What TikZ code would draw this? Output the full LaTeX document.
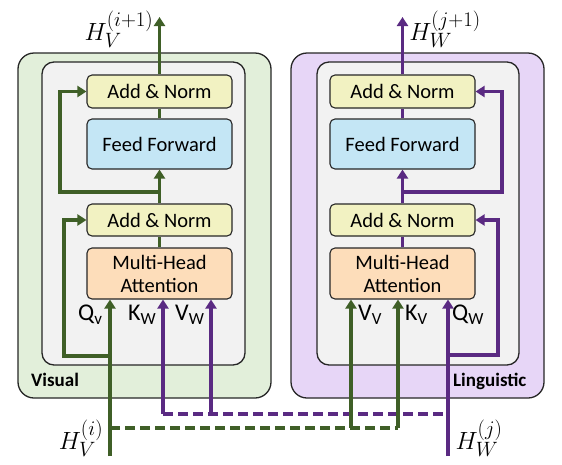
\documentclass[tikz,border=0pt]{standalone}
\usepackage{fontspec}
\setmainfont{Carlito}
\usetikzlibrary{arrows.meta}
\definecolor{gline}{HTML}{3F5F27}
\definecolor{pline}{HTML}{5A2A82}
\definecolor{gouter}{HTML}{E2EFDA}
\definecolor{pouter}{HTML}{E7D6F7}
\definecolor{innerfill}{HTML}{F2F2F2}
\definecolor{anfill}{HTML}{F2F2C2}
\definecolor{fffill}{HTML}{C4E6F5}
\definecolor{mhfill}{HTML}{FDDDBA}
\definecolor{edge}{HTML}{262626}
\newcommand{\sublab}[2]{{\fontsize{24}{24}\selectfont #1}\raisebox{-4.5pt}{\fontsize{17}{17}\selectfont #2}}
\begin{document}
\begin{tikzpicture}[x=1pt,y=-1pt,
  outerbox/.style={draw=edge,line width=1.3pt,rounded corners=16pt,inner sep=0pt},
  innerbox/.style={draw=edge,line width=1.3pt,fill=innerfill,rounded corners=12pt,inner sep=0pt},
  block/.style={draw=edge,line width=1.1pt,rounded corners=5pt,minimum width=145pt,align=center,
    font=\fontsize{20.5}{23}\selectfont,inner sep=0pt},
  garr/.style={draw=gline,line width=3.6pt,-{Triangle[length=9pt,width=11pt]}},
  parr/.style={draw=pline,line width=3.6pt,-{Triangle[length=9pt,width=11pt]}},
  gline/.style={draw=gline,line width=3.6pt},
  pline/.style={draw=pline,line width=3.6pt},
  gdash/.style={draw=gline,line width=3.6pt,dash pattern=on 10pt off 5pt},
  pdash/.style={draw=pline,line width=3.6pt,dash pattern=on 10pt off 5pt},
  hlab/.style={font=\fontsize{24.88}{26}\selectfont,inner sep=0pt},
  inlab/.style={anchor=base west,inner sep=0pt},
  grouplab/.style={anchor=base west,inner sep=0pt,font=\fontsize{19}{20}\selectfont\bfseries}
]
\useasboundingbox (0,0) rectangle (562,464);

% ---------- boxes ----------
\node[outerbox,fill=gouter,minimum width=253pt,minimum height=345pt] (outL) at (144.5,225.5) {};
\node[outerbox,fill=pouter,minimum width=253pt,minimum height=345pt] (outR) at (417.5,225.5) {};
\node[innerbox,minimum width=203pt,minimum height=303pt] (inL) at (143.5,213.5) {};
\node[innerbox,minimum width=202pt,minimum height=303pt] (inR) at (418,213.5) {};

\node[block,fill=anfill,minimum height=33pt] (anL1) at (159.5,91.5) {Add \& Norm};
\node[block,fill=fffill,minimum height=50pt] (ffL) at (159.5,144) {Feed Forward};
\node[block,fill=anfill,minimum height=32pt] (anL2) at (159.5,220) {Add \& Norm};
\node[block,fill=mhfill,minimum height=51pt] (mhL) at (159.5,273.5) {Multi-Head\\Attention};

\node[block,fill=anfill,minimum height=33pt] (anR1) at (402.5,91.5) {Add \& Norm};
\node[block,fill=fffill,minimum height=50pt] (ffR) at (402.5,144) {Feed Forward};
\node[block,fill=anfill,minimum height=32pt] (anR2) at (402.5,220) {Add \& Norm};
\node[block,fill=mhfill,minimum height=51pt] (mhR) at (402.5,273.5) {Multi-Head\\Attention};

\node[grouplab] (visL) at (31,386) {Visual};
\node[grouplab] (lingL) at (453,386) {Linguistic};

% ---------- coordinates ----------
\coordinate (qvStart) at (110,456);
\coordinate (qvRes) at (110,356);
\coordinate (qvCorner) at (64,356);
\coordinate (brL) at (159.5,192);
\coordinate (brLc) at (60,192);
\coordinate (outLtop) at (159.5,17);
\coordinate (kw) at (163,414);
\coordinate (vw) at (211,414);
\coordinate (gd) at (110,428);
\coordinate (vv) at (351,428);
\coordinate (kv) at (398,428);
\coordinate (qwStart) at (448,456);
\coordinate (qwTurn) at (448,414);
\coordinate (qwRes) at (448,355);
\coordinate (qwCorner) at (498,355);
\coordinate (brR) at (402.5,192);
\coordinate (brRc) at (502,192);
\coordinate (outRtop) at (402.5,17);

% ---------- dashed cross connections ----------
\draw[pdash] (kw) -- (qwTurn);
\draw[gdash] (gd) -- (kv);

% ---------- left stream ----------
\draw[garr] (qvStart) -- (qvStart |- mhL.south);
\draw[garr] (qvRes) -- (qvCorner) |- (anL2.west);
\draw[parr] (kw) -- (kw |- mhL.south);
\draw[parr] (vw) -- (vw |- mhL.south);
\draw[gline] (mhL.north) -- (anL2.south);
\draw[garr] (anL2.north) -- (ffL.south);
\draw[garr] (brL) -- (brLc) |- (anL1.west);
\draw[gline] (ffL.north) -- (anL1.south);
\draw[garr] (anL1.north) -- (outLtop);

% ---------- right stream ----------
\draw[garr] (vv) -- (vv |- mhR.south);
\draw[garr] (kv) -- (kv |- mhR.south);
\draw[parr] (qwStart) -- (qwStart |- mhR.south);
\draw[parr] (qwRes) -- (qwCorner) |- (anR2.east);
\draw[pline] (mhR.north) -- (anR2.south);
\draw[parr] (anR2.north) -- (ffR.south);
\draw[parr] (brR) -- (brRc) |- (anR1.east);
\draw[pline] (ffR.north) -- (anR1.south);
\draw[parr] (anR1.north) -- (outRtop);

% ---------- labels ----------
\node[hlab] (hv1) at (119,29) {$H_V^{(i+1)}$};
\node[hlab] (hw1) at (445,29) {$H_W^{(j+1)}$};
\node[hlab] (hv0) at (81,438) {$H_V^{(i)}$};
\node[hlab] (hw0) at (479,438) {$H_W^{(j)}$};

\node[inlab] (lqv) at (78,320) {\sublab{Q}{v}};
\node[inlab] (lkw) at (128,320) {\sublab{K}{W}};
\node[inlab] (lvw) at (175,320) {\sublab{V}{W}};
\node[inlab] (lvv) at (358,320) {\sublab{V}{V}};
\node[inlab] (lkv) at (405,320) {\sublab{K}{V}};
\node[inlab] (lqw) at (452,320) {\sublab{Q}{W}};
\end{tikzpicture}
\end{document}
